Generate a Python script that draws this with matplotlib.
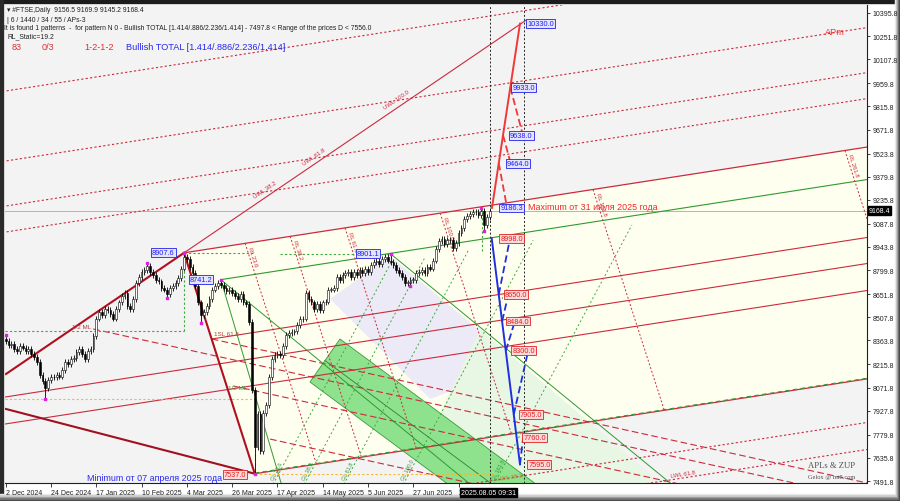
import numpy as np
import matplotlib
matplotlib.use("Agg")
import matplotlib.pyplot as plt
from matplotlib.patches import Polygon, Rectangle
import matplotlib.transforms as mtrans

# ---------------- data ----------------
# daily closes of #FTSE, bar 0 = 2 Dec 2024, last bar = 5 Aug 2025
closes = [
    8360, 8335, 8345, 8310, 8300, 8330, 8320, 8300, 8310, 8280,
    8260, 8230, 8150, 8110, 8070, 8120, 8140, 8135, 8150, 8140,
    8180, 8230, 8220, 8250, 8255, 8290, 8310, 8280, 8250, 8300,
    8310, 8390, 8500, 8540, 8520, 8560, 8555, 8530, 8500, 8560,
    8600, 8640, 8660, 8580, 8560, 8620, 8720, 8760, 8790, 8800,
    8825, 8790, 8770, 8740, 8730, 8690, 8680, 8650, 8690, 8700,
    8720, 8750, 8810, 8880, 8870, 8820, 8780, 8700, 8600, 8520,
    8540, 8580, 8620, 8680, 8700, 8720, 8710, 8690, 8670, 8680,
    8660, 8640, 8620, 8650, 8600, 8590, 8480, 8055, 7700, 7910,
    7680, 7915, 7965, 8135, 8250, 8275, 8280, 8275, 8330, 8400,
    8410, 8415, 8420, 8460, 8495, 8500, 8660, 8620, 8600, 8560,
    8590, 8555, 8600, 8605, 8680, 8680, 8690, 8760, 8740, 8770,
    8780, 8790, 8760, 8790, 8770, 8800, 8780, 8810, 8790, 8830,
    8850, 8860, 8840, 8870, 8880, 8860, 8850, 8830, 8800, 8780,
    8760, 8720, 8720, 8740, 8740, 8780, 8790, 8800, 8780, 8820,
    8810, 8860, 8930, 8980, 8995, 8960, 8990, 8985, 8940, 8970,
    9030, 9060, 9120, 9135, 9150, 9160, 9160, 9140, 9170, 9080,
    9130, 9168.4]
first_open = 8370
pivot_hi = {0: 8395, 50: 8845, 63: 8907.6, 76: 8741.2, 136: 8901.1, 168: 9186.3}
pivot_lo = {14: 8000, 57: 8630, 69: 8472, 88: 7537.0, 143: 8702, 169: 9043}

ytick_vals = [7491.8, 7635.8, 7779.8, 7927.8, 8071.8, 8215.8, 8363.8, 8507.8,
              8651.8, 8799.8, 8943.8, 9087.8, 9235.8, 9379.8, 9523.8, 9671.8,
              9815.8, 9959.8, 10107.8, 10251.8, 10395.8]
xtick_pos = [0, 16, 32, 48, 64, 80, 96, 112, 128, 144, 160]
xtick_lab = ["2 Dec 2024", "24 Dec 2024", "17 Jan 2025", "10 Feb 2025", "4 Mar 2025",
             "26 Mar 2025", "17 Apr 2025", "14 May 2025", "5 Jun 2025", "27 Jun 2025", "2"]

# pitchfork points (bar, price)
A = (63, 8907.6)
B = (88, 7537.0)
C = (76, 8741.2)
fork_slope = 2.72            # price per bar of the parallel family
uwl_at0 = [9911.8, 9477.4, 9198.1, 9036.8]     # upper dotted lines, value at bar 0
sl_at0 = [8175.0, 8013.5, 7846.0]              # red solid lines, value at bar 0
lwl_at0 = [7027.2, 6859.7]                     # lower dotted lines, value at bar 0
rl_start = [84.6, 100.5, 119.9, 153.5, 207.5, 296.5]
rl_names = ["RL 23.6", "RL 38.2", "RL 61.8", "RL 100.0", "RL 161.8", "RL 261.8"]
rl_slope = -54.4
gl_start = [93, 104, 118, 139, 171]
gl_names = ["GL 23.6", "GL 38.2", "GL 61.8", "GL 100.0", "GL 161.8"]
gl_slope = 33.0
dash_start = [(30.9, 8435.0), (72.8, 8373.0), (80.4, 8081.4), (93.4, 7752.0)]
dash_slope = -3.86
trend_up = [(0.1, 8155.8), (63, 8907.6), (184.0, 10353.0)]
trend_low = [(0.1, 7938.6), (88, 7537.0)]
uwl_lab = [(92.3, 9272.7, "UWL 38.2"), (109.3, 9477.5, "UWL 61.8"), (138.5, 9831.0, "UWL 100.0")]

band = [(118.1, 8373), (192.9, 7400), (161.8, 7400), (107.5, 8106)]
band_mid = [(112.8, 8239.5), (180.0, 7366)]
lavender = [(114.6, 8621), (135.8, 8888), (181.7, 8218), (150.0, 8000)]
lightgreen = [(167.6, 8435), (231.9, 7470), (186.3, 7470), (153.5, 7914)]
c_steep_end = (97.3, 7479)
c_flat_end = (163.6, 7479)
p8901_end = (234.8, 7479)

# projections
red_solid = [(171.8, 9186.3), (181.7, 10330.0)]
red_dash = [[(178.3, 9933.0), (182.4, 9660.0)], [(175.7, 9638.0), (178.4, 9464.0)],
            [(174.2, 9464.0), (177.0, 9200.0)]]
red_levels = [(184.2, 10330.0), (179.0, 9933.0), (178.2, 9638.0), (177.1, 9464.0), (174.7, 9186.3)]
blue_solid = [(171.7, 8998.0), (181.7, 7595.0)]
blue_dash = [[(174.2, 8650.0), (178.2, 8998.0)], [(175.4, 8484.0), (177.6, 8650.0)],
             [(176.7, 8300.0), (179.9, 8484.0)], [(179.5, 7905.0), (184.6, 8300.0)],
             [(181.7, 7595.0), (182.8, 7760.0)]]
down_levels = [(174.7, 8998.0), (176.4, 8650.0), (177.1, 8484.0), (179.0, 8300.0),
               (181.7, 7905.0), (182.8, 7760.0), (184.6, 7595.0)]
pivot_boxes = [(51.7, 8907.6, "8907.6"), (65.1, 8741.2, "8741.2"), (124.1, 8901.1, "8901.1")]
vlines_at = [171.1, 183.1]
last_price = 9168.4

FONT = ["Liberation Sans", "DejaVu Sans"]

# ---------------- figure ----------------
fig = plt.figure(figsize=(9, 5.02), dpi=100)
fig.patch.set_facecolor("white")

bg = fig.add_axes([0, 0, 1, 1], zorder=-5)
bg.set_xlim(0, 900); bg.set_ylim(502, 0); bg.axis("off")
bg.add_patch(Rectangle((0, 0), 900, 4, color="#1c1c1c"))
bg.add_patch(Rectangle((0, 0), 3, 502, color="#2a2a2a"))
for k, col in enumerate(["#f0f0f0", "#d0d0d0", "#a8a8a8", "#7a7a7a", "#4a4a4a"]):
    bg.add_patch(Rectangle((895 + k, 0), 1, 502, color=col))
    bg.add_patch(Rectangle((0, 495 + k * 1.4), 900, 1.4, color=col))

ax = fig.add_axes([5 / 900, (502 - 484) / 502, 862 / 900, 478 / 502], zorder=1)
ax.set_facecolor("#f3f3f4")
X0, X1 = -0.25, 304.3
ax.set_xlim(X0, X1)
ax.set_ylim(7479.4, 10445.4)

def fam(v0, i):
    return v0 + fork_slope * i

RED = "#cc2a3c"
DRED = "#b0101e"
GRN = "#2e9a2e"

# areas
a_end = A[1] + fork_slope * (X1 + 2 - A[0])
b_end = B[1] + fork_slope * (X1 + 2 - B[0])
ax.add_patch(Polygon([A, (X1 + 2, a_end), (X1 + 2, b_end), B], closed=True,
                     fc="#fffff0", ec="none", zorder=0.5))
ax.add_patch(Polygon(lavender, closed=True, fc="#eceaf6", ec="none", zorder=0.6))
ax.add_patch(Polygon(lightgreen, closed=True, fc="#e8f6e4", ec="none", zorder=0.6))
ax.add_patch(Polygon(band, closed=True, fc="#8ee28e", ec="#3a9a3a", lw=0.6, zorder=0.8))
ax.plot(*zip(*band_mid), color="#2f7f2f", lw=0.6, zorder=0.9)

xs = np.array([X0 - 1, X1 + 1])
# upper / lower warning lines (dotted)
for v in uwl_at0 + lwl_at0:
    ax.plot(xs, fam(v, xs), color=RED, lw=0.8, ls=(0, (2, 2)), zorder=2)
# red solid lines
l1_start = 72.8
ax.plot([l1_start, X1 + 1], [fam(sl_at0[0], l1_start), fam(sl_at0[0], X1 + 1)], color=RED, lw=0.8, zorder=2)
for v in sl_at0[1:]:
    ax.plot(xs, fam(v, xs), color=RED, lw=0.8, zorder=2)
# median lines through A, C, B
ax.plot([A[0], X1 + 1], [A[1], A[1] + fork_slope * (X1 + 1 - A[0])], color=RED, lw=0.9, zorder=2)
ax.plot([C[0], X1 + 1], [C[1], C[1] + fork_slope * (X1 + 1 - C[0])], color=GRN, lw=0.8, zorder=2)
ax.plot([B[0], X1 + 1], [B[1], B[1] + fork_slope * (X1 + 1 - B[0])], color=RED, lw=0.9, zorder=2)
ax.plot([B[0], X1 + 1], [B[1] + 4, B[1] + 4 + fork_slope * (X1 + 1 - B[0])], color=GRN, lw=0.8,
        ls=(0, (4, 3)), zorder=2)

# RL steep dotted lines
for i0, name in zip(rl_start, rl_names):
    p0 = A[1] + fork_slope * (i0 - A[0])
    d = (A[1] - B[1] + fork_slope * (B[0] - A[0])) / (fork_slope - rl_slope)
    ax.plot([i0, i0 + d], [p0, p0 + rl_slope * d], color=RED, lw=0.7, ls=(0, (2, 2)), zorder=2)
    ax.text(i0 + 0.6, p0 - 25, name, color=RED, fontsize=4.2, rotation=-72,
            rotation_mode="anchor", ha="left", va="bottom", zorder=3, family=FONT)
# GL green dotted lines
for ib, name in zip(gl_start, gl_names):
    d = (1206.2 + fork_slope * (ib - C[0]) + 56) / (gl_slope - fork_slope)
    ax.plot([ib, ib + d], [7479 - 56, 7479 - 56 + gl_slope * d], color="#3ea83e", lw=0.7,
            ls=(0, (2, 2.5)), zorder=2)
    ax.text(ib + 2.2, 7495, name, color="#3a9a3a", fontsize=4.0, rotation=63,
            rotation_mode="anchor", ha="left", va="bottom", zorder=3, family=FONT)
# descending dashed
for (i0, p0) in dash_start:
    ax.plot([i0, X1 + 1], [p0, p0 + dash_slope * (X1 + 1 - i0)], color=RED, lw=0.8,
            ls=(0, (6, 3)), zorder=2)

# green lines from C and 8901
ax.plot([C[0], c_steep_end[0]], [C[1], c_steep_end[1]], color=GRN, lw=0.7, zorder=2)
ax.plot([C[0], c_flat_end[0]], [C[1], c_flat_end[1]], color=GRN, lw=0.7, zorder=2)
ax.plot([136, p8901_end[0]], [8901.1, p8901_end[1]], color=GRN, lw=0.7, zorder=2)

# trend lines
ax.plot(*zip(*trend_up[:2]), color=DRED, lw=1.5, zorder=3)
ax.plot(*zip(*trend_up[1:]), color=RED, lw=0.8, zorder=2)
ax.plot(*zip(*trend_low), color="#a01020", lw=1.5, zorder=3)
ax.plot([A[0], B[0]], [A[1], B[1]], color=DRED, lw=1.5, zorder=3)
for (i, p, s) in uwl_lab:
    ax.text(i, p + 15, s, color=RED, fontsize=4.3, rotation=34.5, rotation_mode="anchor",
            ha="center", va="bottom", family=FONT, zorder=3)

# helper dotted levels
ax.plot([X0, 88], [8000.6, 8000.6], color="#f5b830", lw=0.8, ls=(0, (2, 2)), zorder=2)
ax.plot([88, 173], [7537, 7537], color="#f5b830", lw=0.8, ls=(0, (2, 2)), zorder=2)
ax.plot([88, 88], [7537, 8000.6], color="#f5b830", lw=0.8, ls=(0, (2, 2)), zorder=2)
ax.plot([X0, 63], [8422.6, 8422.6], color="#3ea83e", lw=0.8, ls=(0, (2, 2)), zorder=2)
ax.plot([63, 63], [8422.6, 8907.6], color="#3ea83e", lw=0.8, ls=(0, (2, 2)), zorder=2)
ax.plot([63, 88], [8907.6, 8907.6], color="#3ea83e", lw=0.8, ls=(0, (2, 2)), zorder=2)
ax.plot([97, 136], [8901.1, 8901.1], color="#3ea83e", lw=0.8, ls=(0, (2, 2)), zorder=2)
ax.plot([168.3, 168.3], [8920, 9186.3], color="#3ea83e", lw=0.8, ls=(0, (2, 2)), zorder=2)

ax.axhline(last_price, color="#b4b4b4", lw=0.7, zorder=1.5)
for v in vlines_at:
    ax.axvline(v, color="#222222", lw=0.7, ls=(0, (2, 2)), zorder=2)

# candles
c = np.array(closes, dtype=float)
o = np.array([first_open] + closes[:-1], dtype=float)
idx = np.arange(len(c))
wick = 18
hi = np.maximum(o, c) + wick
lo = np.minimum(o, c) - wick
for k, v in pivot_hi.items():
    hi[k] = v
for k, v in pivot_lo.items():
    lo[k] = v
up = c >= o
ax.vlines(idx, lo, hi, color="black", lw=0.6, zorder=5)
ax.bar(idx, np.where(np.abs(c - o) < 4, 4, c - o), bottom=o, width=0.62,
       color=np.where(up, "white", "black"), edgecolor="black", linewidth=0.4, zorder=6)
ax.scatter(list(pivot_hi.keys()), [hi[k] for k in pivot_hi], s=3, marker="s", color="#e020e0", zorder=7)
ax.scatter(list(pivot_lo.keys()), [lo[k] for k in pivot_lo], s=3, marker="s", color="#e020e0", zorder=7)

# projections
ax.plot(*zip(*red_solid), color="#f03838", lw=1.4, zorder=4)
for seg in red_dash:
    ax.plot(*zip(*seg), color="#f03838", lw=1.3, ls=(0, (4, 2)), zorder=4)
ax.plot(*zip(*blue_solid), color="#2030e0", lw=1.4, zorder=4)
for seg in blue_dash:
    ax.plot(*zip(*seg), color="#2030e0", lw=1.3, ls=(0, (4, 2)), zorder=4)

bkw = dict(fontsize=5.3, va="center", ha="left", family=FONT, zorder=8)
for (i, p) in red_levels:
    ax.text(i, p, f"{p:.1f}", color="#2020ee",
            bbox=dict(boxstyle="square,pad=0.12", fc="#e4e4ff", ec="#2020ee", lw=0.6), **bkw)
for (i, p) in down_levels:
    ax.text(i, p, f"{p:.1f}", color="#e02020",
            bbox=dict(boxstyle="square,pad=0.12", fc="#ffdada", ec="#e02020", lw=0.6), **bkw)
for (i, p, s) in pivot_boxes:
    ax.text(i, p, s, color="#2020ee",
            bbox=dict(boxstyle="square,pad=0.12", fc="#e4e4ff", ec="#2020ee", lw=0.6), **bkw)
ax.text(77.1, 7530, "7537.0", color="#e02020",
        bbox=dict(boxstyle="square,pad=0.12", fc="#ffdada", ec="#e02020", lw=0.6), **bkw)

ax.text(184.6, 9192, "Maximum от 31 июля 2025 года", color="#f02828", fontsize=6.4,
        va="center", ha="left", family=FONT, zorder=8)
ax.text(28.8, 7515, "Minimum от 07 апреля 2025 года", color="#2828f0", fontsize=6.4,
        va="center", ha="left", family=FONT, zorder=8)
ax.text(173.6, 7500, "LWL 38.2", color="#b08030", fontsize=4.3, rotation=8.5, family=FONT, zorder=3)
ax.text(235, 7515, "LWL 61.8", color=RED, fontsize=4.3, rotation=8.5, family=FONT, zorder=3)
ax.text(23.5, 8440, "1/2 ML", color="#b04040", fontsize=4.5, family=FONT, zorder=3)
ax.text(73.5, 8395, "1SL 61.8", color="#b04040", fontsize=4.5, family=FONT, zorder=3)
ax.text(78.5, 8060, "1/2 ML", color="#3a9a3a", fontsize=4.5, family=FONT, zorder=3)

# header
tk = dict(fontsize=4.9, color="#202020", family=FONT, va="center", ha="left")
fig.text(7 / 900, 1 - 10 / 502, "▾ #FTSE,Daily  9156.5 9169.9 9145.2 9168.4", **tk)
fig.text(7 / 900, 1 - 20 / 502, "| 6 / 1440 / 34 / 55 / APs-3", **tk)
fig.text(4 / 900, 1 - 29 / 502, "It is found 1 patterns  -  for pattern N 0 - Bullish TOTAL "
         "[1.414/.886/2.236/1.414] - 7497.8 < Range of the prices D < 7556.0", **tk)
fig.text(7 / 900, 1 - 37 / 502, "RL_Static=19.2", **tk)
hk = dict(fontsize=6.6, family=FONT, va="center", ha="left")
fig.text(12 / 900, 1 - 47 / 502, "83", color="#e03030", **hk)
fig.text(42 / 900, 1 - 47 / 502, "0/3", color="#e03030", **hk)
fig.text(84 / 900, 1 - 47 / 502, "1-2-1-2", color="#e03030", **hk)
fig.text(126 / 900, 1 - 47 / 502, "Bullish TOTAL [1.414/.886/2.236/1.414]", color="#2828f0", **hk)
fig.text(825 / 900, 1 - 33 / 502, "APm", color="#f03030", fontsize=6.6, family=FONT,
         va="center", ha="left")
fig.text(808 / 900, 1 - 466 / 502, "APLs & ZUP", color="#505050", fontsize=6.2,
         family="Liberation Serif", va="center", ha="left")
fig.text(808 / 900, 1 - 478 / 502, "Gelox @ mt5.com", color="#505050", fontsize=4.6,
         family="Liberation Serif", va="center", ha="left")

# axes
for s in ["left", "top"]:
    ax.spines[s].set_visible(False)
for s in ["right", "bottom"]:
    ax.spines[s].set_color("#202020")
    ax.spines[s].set_linewidth(0.8)
ax.yaxis.tick_right()
ax.set_yticks(ytick_vals)
ax.set_yticklabels([f"{v:.1f}" for v in ytick_vals])
ax.tick_params(axis="y", length=2.5, width=0.6, pad=1.5, labelsize=5, colors="#202020")
ax.set_xticks(xtick_pos)
ax.set_xticklabels(xtick_lab)
ax.tick_params(axis="x", length=3, width=0.6, pad=1.5, labelsize=5, colors="#202020")
for lbl in ax.get_xticklabels():
    lbl.set_ha("left")
    lbl.set_family(FONT)
for lbl in ax.get_yticklabels():
    lbl.set_family(FONT)

tr_y = mtrans.blended_transform_factory(ax.transAxes, ax.transData)
ax.text(1.002, last_price, f"{last_price:.1f}", transform=tr_y, color="white", fontsize=5,
        va="center", ha="left", family=FONT, clip_on=False, zorder=9,
        bbox=dict(boxstyle="square,pad=0.15", fc="black", ec="black"))
tr_x = mtrans.blended_transform_factory(ax.transData, ax.transAxes)
ax.text(161.0, -0.013, "2025.08.05 09:31", transform=tr_x, color="white", fontsize=5,
        va="top", ha="left", family=FONT, clip_on=False, zorder=9,
        bbox=dict(boxstyle="square,pad=0.15", fc="black", ec="black"))

fig.savefig("out.png", dpi=100)
